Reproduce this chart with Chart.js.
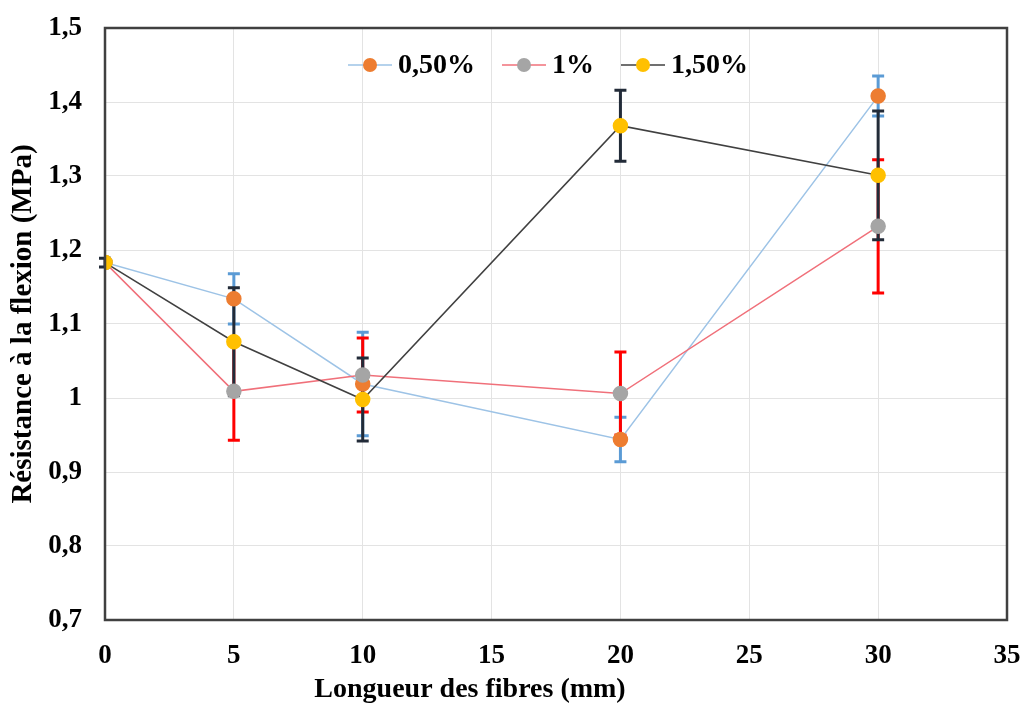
<!DOCTYPE html>
<html lang="fr">
<head>
<meta charset="UTF-8" />
<title>Résistance à la flexion</title>
<script src="https://cdn.jsdelivr.net/npm/chart.js"></script>
<style>
  body { margin: 0; background: #fff; }
  #wrap { width: 1025px; height: 709px; }
</style>
</head>
<body>
<div id="wrap"><canvas id="flexChart" width="1025" height="709"></canvas></div>
<script>
// values
const fibreLengths = [0, 5, 10, 20, 30];
const seriesNames = ['0,50%', '1%', '1,50%'];
const res050 = [1.183, 1.134, 1.019, 0.944, 1.408];
const res100 = [1.183, 1.009, 1.031, 1.006, 1.232];
const res150 = [1.183, 1.076, 0.998, 1.368, 1.301];
const err050 = [0, 0.034, 0.07, 0.03, 0.027];
const err100 = [0, 0.066, 0.05, 0.056, 0.09];
const err150 = [0.006, 0.073, 0.056, 0.048, 0.087];
const yTickLabels = ['0,7', '0,8', '0,9', '1', '1,1', '1,2', '1,3', '1,4', '1,5'];
const xTickLabels = ['0', '5', '10', '15', '20', '25', '30', '35'];

const serif = '"Liberation Serif", "Times New Roman", serif';

function pts(values) {
  return values.map((v, i) => ({ x: fibreLengths[i], y: v }));
}

// error bars, drawn under the lines and markers
const errorBars = {
  id: 'errorBars',
  beforeDatasetsDraw(chart) {
    const ctx = chart.ctx;
    const xs = chart.scales.x, ys = chart.scales.y;
    chart.data.datasets.forEach((ds) => {
      ctx.save();
      ctx.strokeStyle = ds.errorColor;
      ctx.lineWidth = 3;
      ds.data.forEach((p, i) => {
        const e = ds.errors[i];
        if (!e) return;
        const x = xs.getPixelForValue(p.x);
        const y1 = ys.getPixelForValue(p.y + e);
        const y2 = ys.getPixelForValue(p.y - e);
        ctx.beginPath();
        ctx.moveTo(x, y1); ctx.lineTo(x, y2);
        ctx.moveTo(x - 6, y1); ctx.lineTo(x + 6, y1);
        ctx.moveTo(x - 6, y2); ctx.lineTo(x + 6, y2);
        ctx.stroke();
      });
      ctx.restore();
    });
  }
};

// frame, inner legend and x title
const extras = {
  id: 'extras',
  afterDraw(chart) {
    const ctx = chart.ctx;
    const a = chart.chartArea;
    ctx.save();
    ctx.strokeStyle = '#404040';
    ctx.lineWidth = 2.5;
    ctx.strokeRect(a.left, a.top, a.right - a.left, a.bottom - a.top);

    ctx.font = 'bold 28px ' + serif;
    ctx.textBaseline = 'middle';
    const lineLen = 44, gap = 6, itemGap = 27;
    const widths = chart.data.datasets.map(ds => lineLen + gap + ctx.measureText(ds.label).width);
    const total = widths.reduce((s, w) => s + w, 0) + itemGap * (widths.length - 1);
    let x = (a.left + a.right) / 2 - 8 - total / 2;
    const y = a.top + 37;
    chart.data.datasets.forEach((ds, i) => {
      ctx.strokeStyle = ds.borderColor;
      ctx.lineWidth = 1.5;
      ctx.beginPath();
      ctx.moveTo(x, y); ctx.lineTo(x + lineLen, y);
      ctx.stroke();
      ctx.fillStyle = ds.pointBackgroundColor;
      ctx.beginPath();
      ctx.arc(x + lineLen / 2, y, 7, 0, Math.PI * 2);
      ctx.fill();
      ctx.fillStyle = '#000';
      ctx.fillText(ds.label, x + lineLen + gap, y + 1);
      x += widths[i] + itemGap;
    });

    ctx.font = 'bold 28px ' + serif;
    ctx.textAlign = 'center';
    ctx.fillStyle = '#000';
    ctx.fillText('Longueur des fibres (mm)', a.left + 365, 690);
    ctx.restore();
  }
};

function series(label, values, errors, line, marker, errColor, order) {
  return {
    label: label,
    data: pts(values),
    errors: errors,
    errorColor: errColor,
    borderColor: line,
    borderWidth: 1.5,
    pointBackgroundColor: marker,
    pointBorderColor: marker,
    pointRadius: 7,
    pointHoverRadius: 7,
    tension: 0,
    order: order
  };
}

function noPad(scale) {
  scale.paddingTop = 0; scale.paddingBottom = 0;
  scale.paddingLeft = 0; scale.paddingRight = 0;
}

new Chart(document.getElementById('flexChart'), {
  type: 'line',
  data: {
    datasets: [
      series(seriesNames[0], res050, err050, '#9DC3E6', '#ED7D31', '#5B9BD5', 3),
      series(seriesNames[1], res100, err100, '#F0707A', '#A5A5A5', '#FF0000', 2),
      series(seriesNames[2], res150, err150, '#404040', '#FFC000', '#222B38', 1)
    ]
  },
  options: {
    responsive: false,
    animation: false,
    layout: { padding: { top: 28, right: 18, left: 0, bottom: 0 } },
    plugins: { legend: { display: false }, tooltip: { enabled: false } },
    scales: {
      x: {
        type: 'linear',
        min: 0,
        max: 35,
        ticks: {
          stepSize: 5,
          padding: 20,
          color: '#000',
          font: { family: serif, size: 27, weight: 'bold' },
          callback: (v, i) => xTickLabels[i]
        },
        grid: { color: '#E3E3E3', drawTicks: false },
        border: { display: false },
        afterFit(scale) { scale.height = 89; noPad(scale); }
      },
      y: {
        min: 0.7,
        max: 1.5,
        ticks: {
          stepSize: 0.1,
          padding: 23,
          color: '#000',
          font: { family: serif, size: 27, weight: 'bold' },
          callback: (v, i) => yTickLabels[i]
        },
        grid: { color: '#E3E3E3', drawTicks: false },
        border: { display: false },
        title: {
          display: true,
          text: 'Résistance à la flexion (MPa)',
          color: '#000',
          font: { family: serif, size: 29, weight: 'bold' },
          padding: { top: 6, bottom: 0 }
        },
        afterFit(scale) { scale.width = 105; noPad(scale); }
      }
    }
  },
  plugins: [errorBars, extras]
});
</script>
</body>
</html>
